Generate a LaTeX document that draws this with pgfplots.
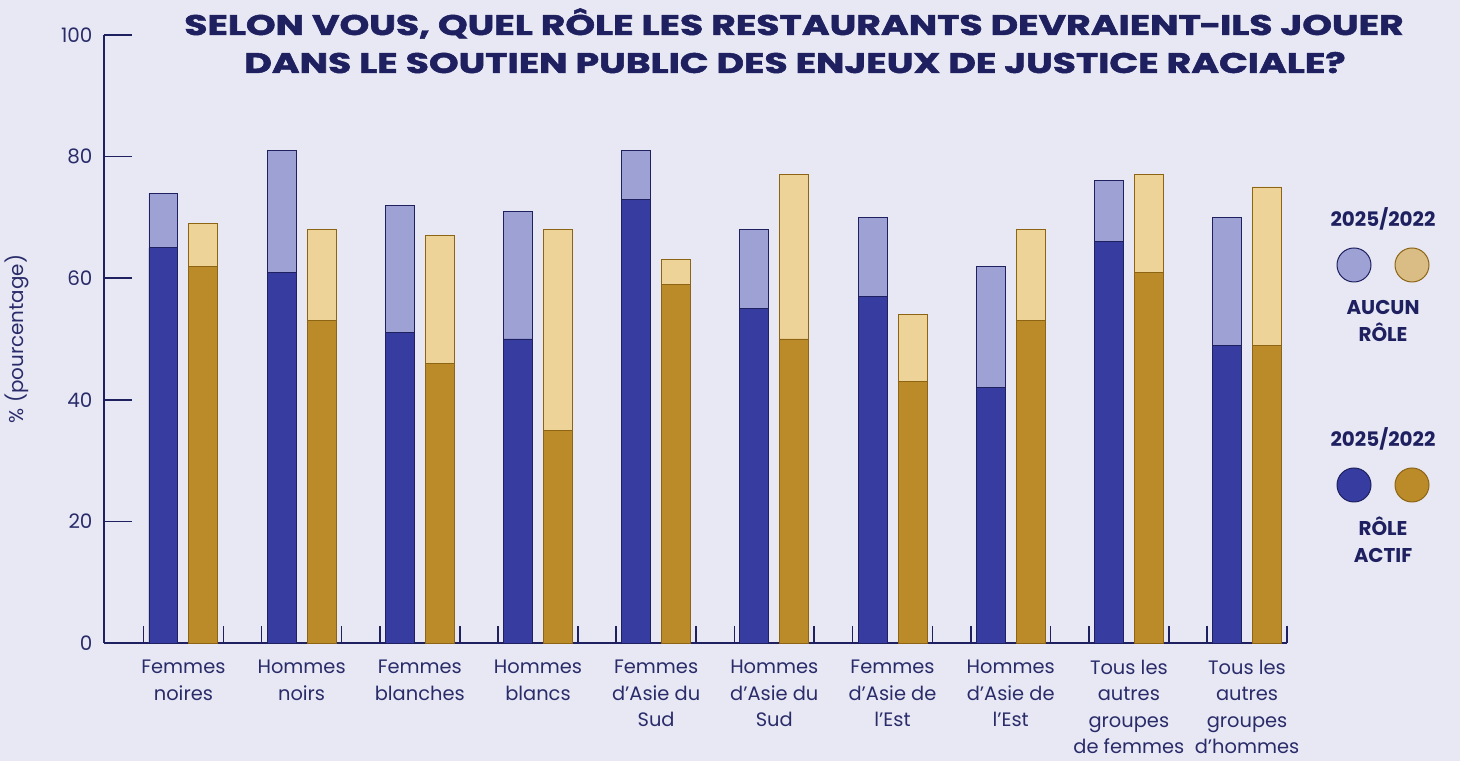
\documentclass[border=0pt]{standalone}
\usepackage{pgfplots}
\pgfplotsset{compat=1.18}
\usepackage{pgfplotstable}
\usepackage{fontspec}
\setmainfont{Poppins}
\newfontfamily\titlefont{Poppins}[BoldFeatures={FakeBold=1.6}]
\definecolor{bgc}{HTML}{E8E8F4}
\definecolor{navy}{HTML}{1E2060}
\definecolor{labc}{HTML}{2A2C6A}
\definecolor{dblue}{HTML}{373DA0}
\definecolor{lblue}{HTML}{9DA1D3}
\definecolor{dgold}{HTML}{BB8B2A}
\definecolor{lgold}{HTML}{EDD398}
\definecolor{lgoldleg}{HTML}{D9BD85}
\definecolor{goldline}{HTML}{8C6414}
\pgfplotstableread{
i a25 t25 a22 t22
0 65 74 62 69
1 61 81 53 68
2 51 72 46 67
3 50 71 35 68
4 73 81 59 63
5 55 68 50 77
6 57 70 43 54
7 42 62 53 68
8 66 76 61 77
9 49 70 49 75
}\data
\begin{document}
\begin{tikzpicture}[x=1bp,y=1bp]
\fill[bgc] (0,0) rectangle (1460,761);
\begin{axis}[
  at={(104bp,118bp)}, anchor=south west,
  scale only axis, width=1183bp, height=608bp,
  xmin=-0.672, xmax=9.338, ymin=0, ymax=100,
  axis x line*=bottom, axis y line*=left,
  axis line style={draw=navy, line width=1.6bp, -},
  ytick={0,20,...,100},
  tick align=inside, major tick length=28bp,
  ytick style={draw=navy, line width=1.6bp},
  /pgf/number format/assume math mode=true,
  yticklabel style={font=\fontsize{20}{22}\selectfont, text=labc, xshift=-8bp},
  xtick={0,...,9},
  xtick style={draw=none},
  xticklabels={{Femmes\\noires},{Hommes\\noirs},{Femmes\\blanches},{Hommes\\blancs},{Femmes\\d’Asie du\\Sud},{Hommes\\d’Asie du\\Sud},{Femmes\\d’Asie de\\l’Est},{Hommes\\d’Asie de\\l’Est},{Tous les\\autres\\groupes\\de femmes},{Tous les\\autres\\groupes\\d’hommes}},
  xticklabel style={font=\fontsize{19.5}{26.5}\selectfont, text=labc, align=center, anchor=north, yshift=-16bp, inner sep=1bp},
  ylabel={\% (pourcentage)},
  ylabel style={font=\fontsize{20}{22}\selectfont, text=labc},
  every axis y label/.append style={at={(axis description cs:-0.0735,0.5)}, anchor=center, rotate=0},
  clip=false,
]
\addplot[ybar, bar width=0.245, bar shift=0pt, fill=lblue, draw=navy, line width=0.9bp] table[x expr=\thisrow{i}-0.169, y=t25] {\data};
\addplot[ybar, bar width=0.245, bar shift=0pt, fill=dblue, draw=navy, line width=0.9bp] table[x expr=\thisrow{i}-0.169, y=a25] {\data};
\addplot[ybar, bar width=0.245, bar shift=0pt, fill=lgold, draw=goldline, line width=0.9bp] table[x expr=\thisrow{i}+0.169, y=t22] {\data};
\addplot[ybar, bar width=0.245, bar shift=0pt, fill=dgold, draw=goldline, line width=0.9bp] table[x expr=\thisrow{i}+0.169, y=a22] {\data};
\pgfplotsinvokeforeach{0,...,9}{
  \draw[navy, line width=1.6bp] (axis cs:#1-0.338,0) -- ++(0pt,17bp);
  \draw[navy, line width=1.6bp] (axis cs:#1+0.338,0) -- ++(0pt,17bp);
}
\end{axis}
% title
\node[anchor=base, text=navy, font=\fontsize{28.5}{30}\selectfont\titlefont\bfseries] at (794,726) {\scalebox{1.33}[1]{SELON VOUS, QUEL RÔLE LES RESTAURANTS DEVRAIENT\kern-1pt-\kern-1pt ILS JOUER}};
\node[anchor=base, text=navy, font=\fontsize{28.5}{30}\selectfont\titlefont\bfseries] at (795,688) {\scalebox{1.33}[1]{DANS LE SOUTIEN PUBLIC DES ENJEUX DE JUSTICE RACIALE?}};
% legend
\node[anchor=base, text=navy, font=\fontsize{20}{22}\selectfont\bfseries] at (1383,534) {2025/2022};
\fill[lblue, draw=navy, line width=1bp] (1354,496) circle (17);
\fill[lgoldleg, draw=goldline, line width=1bp] (1412,496) circle (17);
\node[anchor=base, text=navy, font=\fontsize{20}{22}\selectfont\bfseries] at (1383,446) {AUCUN};
\node[anchor=base, text=navy, font=\fontsize{20}{22}\selectfont\bfseries] at (1383,419) {RÔLE};
\node[anchor=base, text=navy, font=\fontsize{20}{22}\selectfont\bfseries] at (1383,314) {2025/2022};
\fill[dblue, draw=navy, line width=1bp] (1354,276) circle (17);
\fill[dgold, draw=goldline, line width=1bp] (1412,276) circle (17);
\node[anchor=base, text=navy, font=\fontsize{20}{22}\selectfont\bfseries] at (1383,225) {RÔLE};
\node[anchor=base, text=navy, font=\fontsize{20}{22}\selectfont\bfseries] at (1383,198) {ACTIF};
\end{tikzpicture}
\end{document}
